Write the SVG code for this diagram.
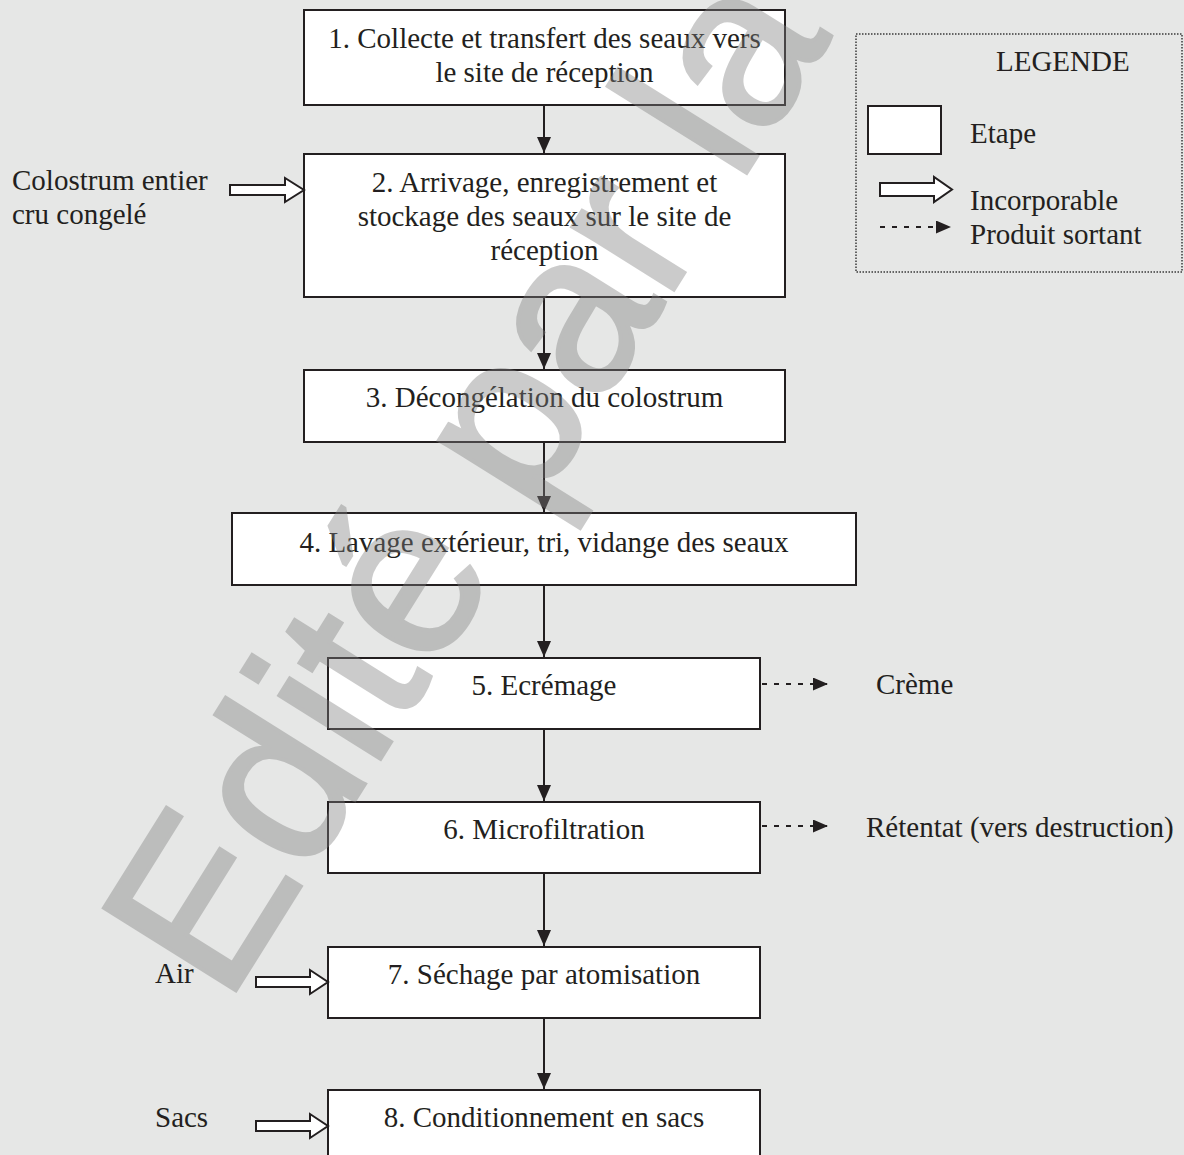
<svg xmlns="http://www.w3.org/2000/svg" width="1184" height="1155" viewBox="0 0 1184 1155">
<defs>
<style>
.bg{fill:#e6e7e6}
.box{fill:#ffffff;stroke:#231f20;stroke-width:2}
.t{font-family:"Liberation Serif","Times New Roman",serif;font-size:29px;fill:#231f20}
.c{text-anchor:middle}
.line{stroke:#231f20;stroke-width:2;fill:none}
.dash{stroke:#231f20;stroke-width:2;fill:none;stroke-dasharray:5 7}
.blk{fill:#ffffff;stroke:#231f20;stroke-width:2;stroke-linejoin:miter}
.wm{font-family:"Liberation Sans",Arial,sans-serif;font-size:226px;fill:#7f7f7f;stroke:#7f7f7f;stroke-width:4;opacity:0.4}
</style>
<marker id="ah" viewBox="0 0 16 14" refX="16" refY="7" markerWidth="16" markerHeight="14" markerUnits="userSpaceOnUse" orient="auto">
<path d="M0,0 L16,7 L0,14 Z" fill="#231f20"/>
</marker>
<marker id="ahs" viewBox="0 0 15 13" refX="15" refY="6.5" markerWidth="15" markerHeight="13" markerUnits="userSpaceOnUse" orient="auto">
<path d="M0,0 L15,6.5 L0,13 Z" fill="#231f20"/>
</marker>
</defs>
<rect class="bg" x="0" y="0" width="1184" height="1155"/>

<g id="node1"><rect class="box" x="304" y="10" width="481" height="95"/>
<text class="t c" x="544.5" y="48">1. Collecte et transfert des seaux vers</text>
<text class="t c" x="544.5" y="82">le site de réception</text></g>

<g id="node2"><rect class="box" x="304" y="154" width="481" height="143"/>
<text class="t c" x="544.5" y="192">2. Arrivage, enregistrement et</text>
<text class="t c" x="544.5" y="226">stockage des seaux sur le site de</text>
<text class="t c" x="544.5" y="260">réception</text></g>

<g id="node3"><rect class="box" x="304" y="370" width="481" height="72"/>
<text class="t c" x="544.5" y="407">3. Décongélation du colostrum</text></g>

<g id="node4"><rect class="box" x="232" y="513" width="624" height="72"/>
<text class="t c" x="544" y="552">4. Lavage extérieur, tri, vidange des seaux</text></g>

<g id="node5"><rect class="box" x="328" y="658" width="432" height="71"/>
<text class="t c" x="544" y="695">5. Ecrémage</text></g>

<g id="node6"><rect class="box" x="328" y="802" width="432" height="71"/>
<text class="t c" x="544" y="839">6. Microfiltration</text></g>

<g id="node7"><rect class="box" x="328" y="947" width="432" height="71"/>
<text class="t c" x="544" y="984">7. Séchage par atomisation</text></g>

<g id="node8"><rect class="box" x="328" y="1090" width="432" height="75"/>
<text class="t c" x="544" y="1127">8. Conditionnement en sacs</text></g>

<g id="in-colostrum"><text class="t" x="12" y="190">Colostrum entier</text>
<text class="t" x="12" y="224">cru congelé</text></g>
<g id="in-air"><text class="t" x="155" y="983">Air</text></g>
<g id="in-sacs"><text class="t" x="155" y="1127">Sacs</text></g>
<g id="out-creme"><text class="t" x="876" y="694">Crème</text></g>
<g id="out-retentat"><text class="t" x="866" y="837">Rétentat (vers destruction)</text></g>

<g id="connectors">
<line class="line" x1="544" y1="106" x2="544" y2="153" marker-end="url(#ah)"/>
<line class="line" x1="544" y1="298" x2="544" y2="369" marker-end="url(#ah)"/>
<line class="line" x1="544" y1="443" x2="544" y2="512" marker-end="url(#ah)"/>
<line class="line" x1="544" y1="586" x2="544" y2="657" marker-end="url(#ah)"/>
<line class="line" x1="544" y1="730" x2="544" y2="801" marker-end="url(#ah)"/>
<line class="line" x1="544" y1="874" x2="544" y2="946" marker-end="url(#ah)"/>
<line class="line" x1="544" y1="1019" x2="544" y2="1089" marker-end="url(#ah)"/>
<path class="blk" d="M230,185 H285 V178 L304,190 L285,202 V195 H230 Z"/>
<path class="blk" d="M256,977 H310 V970 L328,982 L310,994 V987 H256 Z"/>
<path class="blk" d="M256,1121 H310 V1114 L328,1126 L310,1138 V1131 H256 Z"/>
<line class="dash" x1="762" y1="684" x2="828" y2="684" marker-end="url(#ahs)"/>
<line class="dash" x1="762" y1="826" x2="828" y2="826" marker-end="url(#ahs)"/>
</g>

<g id="legend">
<rect x="856" y="34" width="326" height="238" fill="none" stroke="#3a3a3a" stroke-width="1.5" stroke-dasharray="1.5 1.5"/>
<text class="t" x="996" y="71">LEGENDE</text>
<rect class="box" x="868" y="106" width="73" height="48"/>
<text class="t" x="970" y="143">Etape</text>
<path class="blk" d="M880,183 H934 V177 L952,189.5 L934,202 V196 H880 Z"/>
<text class="t" x="970" y="210">Incorporable</text>
<line class="dash" x1="880" y1="227" x2="951" y2="227" stroke-dasharray="5 8.3" marker-end="url(#ahs)"/>
<text class="t" x="970" y="244">Produit sortant</text>
</g>

<text class="wm" transform="translate(226,1006) rotate(-58)">Edité par la</text>
</svg>
